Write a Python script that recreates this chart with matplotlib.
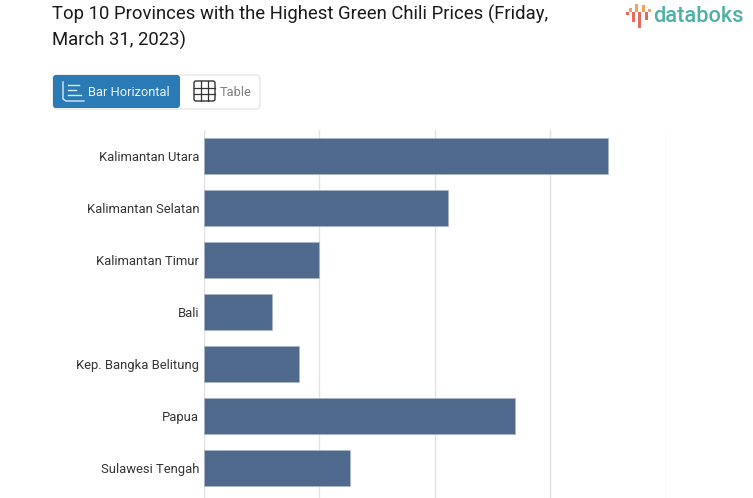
import matplotlib
matplotlib.use("Agg")
import matplotlib.pyplot as plt
from matplotlib.patches import FancyBboxPatch, Rectangle

provinces = ["Kalimantan Utara", "Kalimantan Selatan", "Kalimantan Timur", "Bali",
             "Kep. Bangka Belitung", "Papua", "Sulawesi Tengah"]
prices = [70000, 42400, 20000, 11800, 16600, 54000, 25400]
x_ticks = [0, 20000, 40000, 60000, 80000]

W, H = 753, 498
plt.rcParams["font.family"] = ["Roboto", "DejaVu Sans"]

fig = plt.figure(figsize=(W / 100, H / 100), dpi=100)

# chart area, in pixels: x 203.5-665.5, y 130-498
ax = fig.add_axes([203.5 / W, 0, 462 / W, (498 - 130) / H])
ax.barh(range(len(provinces)), prices, height=0.69, color="#4f6a8c",
        edgecolor="#a9b6c8", linewidth=0.5, zorder=3)
ax.set_xlim(0, 80000)
ax.set_ylim(6.571, -0.506)
ax.set_xticks(x_ticks)
ax.set_xticklabels([])
ax.set_yticks(range(len(provinces)))
ax.set_yticklabels(provinces, fontsize=9.4, color="#333333")
ax.tick_params(axis="both", length=0, pad=3.2)
ax.grid(axis="x", color="#e3e3e3", linewidth=1, zorder=0)
ax.grid(axis="y", visible=False)
for s in ax.spines.values():
    s.set_visible(False)
ax.patch.set_alpha(0)

# overlay in pixel coordinates for title, buttons and logo
ov = fig.add_axes([0, 0, 1, 1], zorder=5)
ov.set_xlim(0, W)
ov.set_ylim(H, 0)
ov.axis("off")

ov.text(52, 14.6, "Top 10 Provinces with the Highest Green Chili Prices (Friday,",
        fontsize=13.3, color="#1a1a1a", va="center")
ov.text(52, 40.6, "March 31, 2023)", fontsize=13.3, color="#1a1a1a", va="center")

# button group
ov.add_patch(FancyBboxPatch((53, 75), 207, 34, boxstyle="round,pad=0,rounding_size=4",
                            fc="white", ec="#dddddd", lw=0.7))
ov.add_patch(FancyBboxPatch((53, 75), 127, 33, boxstyle="round,pad=0,rounding_size=3",
                            fc="#2a7ab5", ec="none"))
ov.text(88.5, 92, "Bar Horizontal", fontsize=9.3, color="#f2f6fa", va="center")
ov.text(220, 92, "Table", fontsize=9.3, color="#808080", va="center")

# bar icon
ov.plot([63, 63, 66, 84], [82, 99, 101, 101], color="#dbe8f3", lw=1)
for yy, x1 in [(85, 79), (90, 76), (95, 81)]:
    ov.plot([68, x1], [yy, yy], color="#dbe8f3", lw=1)

# table icon
ov.add_patch(FancyBboxPatch((194, 81), 21, 20, boxstyle="round,pad=0,rounding_size=2",
                            fc="none", ec="#333333", lw=1))
for xx in (201, 208):
    ov.plot([xx, xx], [81, 101], color="#333333", lw=0.9)
for yy in (87.5, 94):
    ov.plot([194, 215], [yy, yy], color="#333333", lw=0.9)

# logo
logo_bars = [(626, 12, 15, "#e8695c"), (629, 8, 12, "#f0a35e"), (632, 12, 22, "#e8695c"),
             (635.3, 4, 12, "#f0a35e"), (638.5, 12, 28, "#e8695c"), (642, 5, 12, "#f0a35e"),
             (645, 12, 20, "#e8695c"), (648, 9, 12, "#f0a35e")]
for lx, ly0, ly1, c in logo_bars:
    ov.add_patch(Rectangle((lx, ly0), 3, ly1 - ly0, fc=c, ec="none"))
ov.text(653, 16, "databoks", fontsize=15.7, color="#4fb0a8", va="center", weight="medium")

fig.savefig("out.png", dpi=100)
